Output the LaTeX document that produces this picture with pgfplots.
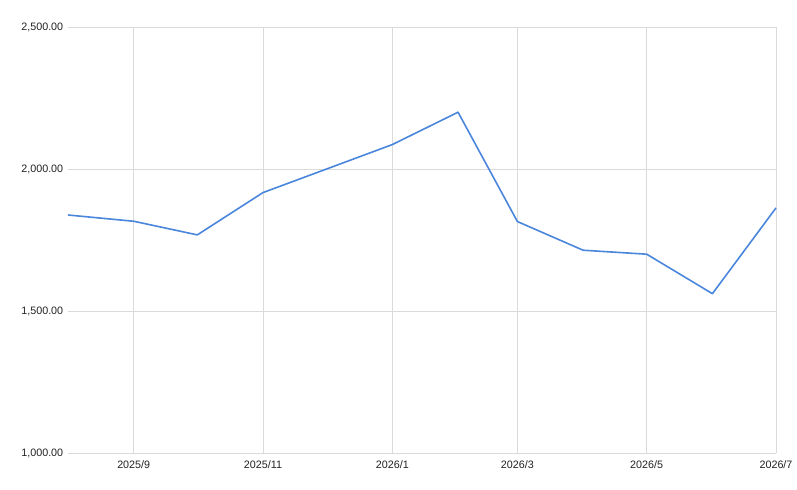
\documentclass[border=0pt]{standalone}
\usepackage{fontspec}
\setmainfont{Liberation Sans}
\usepackage{pgfplots}
\pgfplotsset{compat=1.18}
\definecolor{lineblue}{HTML}{4A86DC}
\definecolor{gridgray}{HTML}{DADADA}
\definecolor{txt}{HTML}{222222}
\begin{document}
\fontsize{10.8}{13}\selectfont
\begin{tikzpicture}
\useasboundingbox (0,0) rectangle (797bp,490bp);
\begin{axis}[
  at={(68bp,37bp)}, anchor=south west,
  scale only axis, width=708bp, height=426bp,
  xmin=0, xmax=334, ymin=1000, ymax=2500,
  axis line style={draw=none},
  major tick length=0pt,
  xtick={31,92,153,212,273,334},
  xticklabels={2025/9,2025/11,2026/1,2026/3,2026/5,2026/7},
  ytick={1000,1500,2000,2500},
  grid=major,
  major grid style={gridgray, line width=0.8bp},
  tick label style={font=\fontsize{10.8}{13}\selectfont, text=txt},
  /pgf/number format/assume math mode=true,
  yticklabel={\pgfmathprintnumber[fixed, fixed zerofill, precision=2, 1000 sep={,}]{\tick}},
  scaled y ticks=false,
  yticklabel style={xshift=-1bp},
  xticklabel style={yshift=-4bp},
  clip=false,
]
\addplot[lineblue, line width=1.6bp, line join=round] coordinates {
  (0,1838) (31,1816) (61,1768) (92,1917) (122,2000) (153,2086)
  (184,2200) (212,1815) (243,1714) (273,1700) (304,1561) (334,1863)
};
\end{axis}
\end{tikzpicture}
\end{document}
